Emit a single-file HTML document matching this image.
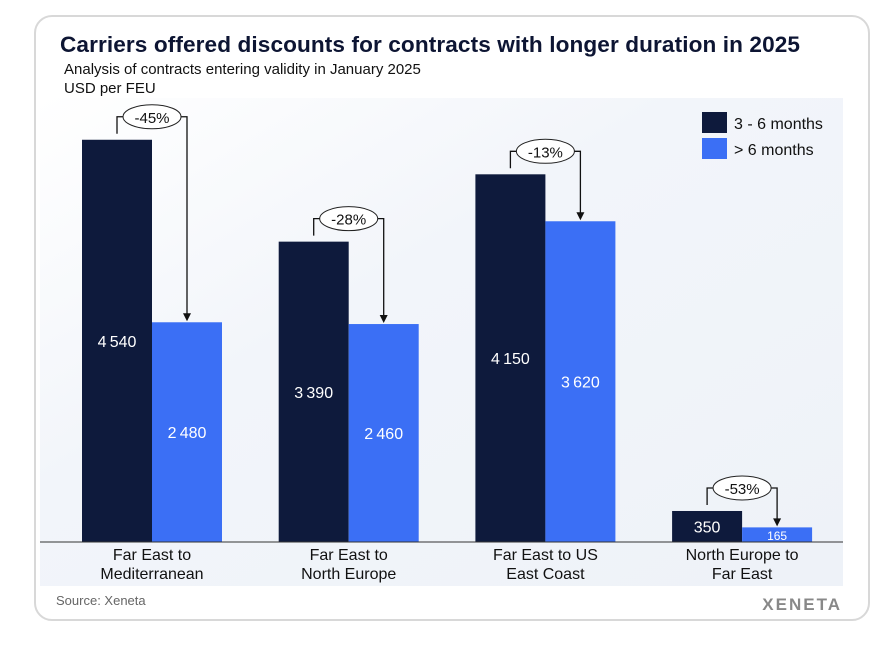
<!DOCTYPE html>
<html><head><meta charset="utf-8"><style>
body{margin:0;width:892px;height:647px;background:#fff;font-family:"Liberation Sans",sans-serif;overflow:hidden}
#card{position:absolute;left:34px;top:15px;width:836px;height:606px;border:2px solid #d8d8d8;border-radius:18px;box-sizing:border-box}
</style></head><body>
<div id="card"></div>
<svg id="chart" width="892" height="647" style="position:absolute;left:0;top:0">
<defs>
<linearGradient id="bg" x1="0" y1="0" x2="1" y2="1"><stop offset="0" stop-color="#ffffff"/><stop offset="0.4" stop-color="#f2f5fa"/><stop offset="1" stop-color="#eef2f8"/></linearGradient>
</defs>
<rect x="40" y="98" width="803" height="488" fill="url(#bg)"/>
<text x="60" y="52" font-size="22.6" font-weight="bold" fill="#0d1533" letter-spacing="0.1">Carriers offered discounts for contracts with longer duration in 2025</text>
<text x="64" y="74" font-size="15" fill="#111">Analysis of contracts entering validity in January 2025</text>
<text x="64" y="93" font-size="15" fill="#111">USD per FEU</text>
<g>
<rect x="702" y="112" width="25" height="21" fill="#0e1a3c"/>
<text x="734" y="129" font-size="16" fill="#111">3 - 6 months</text>
<rect x="702" y="138" width="25" height="21" fill="#3b6ff5"/>
<text x="734" y="155" font-size="16" fill="#111">&gt; 6 months</text>
</g>
<g id="bars"></g>
<line x1="40" y1="542" x2="843" y2="542" stroke="#333" stroke-width="1"/>
<text x="56" y="605" font-size="13" fill="#666">Source: Xeneta</text>
<text x="842" y="610" font-size="17" font-weight="bold" fill="#888" text-anchor="end" letter-spacing="2">XENETA</text>
</svg>
<script>
const categories=[["Far East to","Mediterranean"],["Far East to","North Europe"],["Far East to US","East Coast"],["North Europe to","Far East"]];
const shortTerm=[4540,3390,4150,350];
const longTerm=[2480,2460,3620,165];
const changes=["-45%","-28%","-13%","-53%"];
const NS="http://www.w3.org/2000/svg";
const g=document.getElementById('bars');
const base=542,scale=0.0886,bw=70;
const y=v=>base-v*scale;
const cx=i=>152+i*196.7;
function mk(t,a){const e=document.createElementNS(NS,t);for(const k in a)e.setAttribute(k,a[k]);g.appendChild(e);return e;}
const fmt=v=>v>=1000?Math.floor(v/1000)+"\u2009"+String(v%1000).padStart(3,"0"):String(v);
categories.forEach((c,i)=>{
 const x=cx(i);
 const r1=mk('rect',{x:x-bw,y:y(shortTerm[i]),width:bw,height:shortTerm[i]*scale,fill:'#0e1a3c'});
 
 
 const r2=mk('rect',{x:x,y:y(longTerm[i]),width:bw,height:longTerm[i]*scale,fill:'#3b6ff5'});
 
 
 const l1=mk('text',{x:x-bw/2,y:y(shortTerm[i]/2)+6,'font-size':16,fill:'#fff','text-anchor':'middle'});
 l1.textContent=fmt(shortTerm[i]);
 
 
 const l2=mk('text',{x:x+bw/2,y:longTerm[i]<1000?base-2:y(longTerm[i]/2)+6,'font-size':longTerm[i]<1000?12:16,fill:'#fff','text-anchor':'middle'});
 l2.textContent=fmt(longTerm[i]);
 
 
 const top=Math.min(y(shortTerm[i]),y(longTerm[i]))-23;
 const p=mk('path',{d:`M${x-bw/2} ${y(shortTerm[i])-6}V${top}H${x+bw/2}V${y(longTerm[i])-8}`,fill:'none',stroke:'#111','stroke-width':1.3});
 
 
 const ar=mk('path',{d:`M${x+bw/2-4} ${y(longTerm[i])-9}L${x+bw/2+4} ${y(longTerm[i])-9}L${x+bw/2} ${y(longTerm[i])-1}Z`,fill:'#111'});
 
 
 const el=mk('ellipse',{cx:x,cy:top,rx:29,ry:12,fill:'#fff',stroke:'#222','stroke-width':1});
 
 
 const ct=mk('text',{x:x,y:top+6,'font-size':15,fill:'#111','text-anchor':'middle'});
 ct.textContent=changes[i];
 
 
 c.forEach((line,j)=>{
  const t=mk('text',{x:x,y:560+j*19,'font-size':16,fill:'#111','text-anchor':'middle'});
  t.textContent=line;
  
  
 });
});
</script>
</body></html>
